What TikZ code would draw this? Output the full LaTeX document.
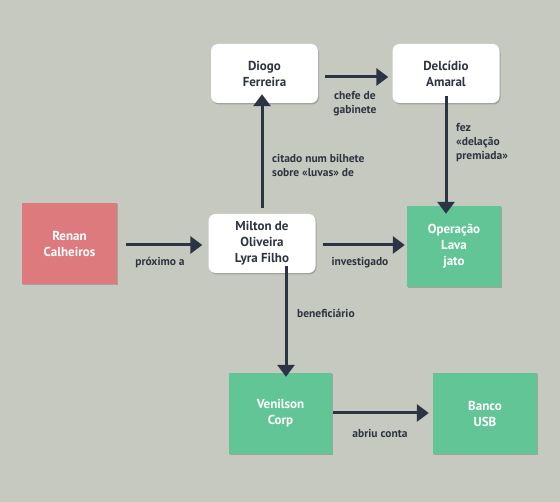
\documentclass[tikz,border=0pt]{standalone}
\usepackage{fontspec}
\setmainfont{PT Sans}
\usetikzlibrary{arrows.meta,shadows}
\definecolor{bg}{HTML}{C6C9BF}
\definecolor{arr}{HTML}{2B3442}
\definecolor{grn}{HTML}{62C596}
\definecolor{rd}{HTML}{DD7A7E}
\definecolor{txt}{HTML}{2E3440}
\tikzset{
  box/.style={minimum width=#1, align=center, font=\bfseries\fontsize{13}{16}\selectfont, inner sep=0pt,
    drop shadow={shadow xshift=1pt, shadow yshift=-1.5pt, fill=black, opacity=0.18}},
  wbox/.style={box=107pt, fill=white, rounded corners=7pt, text=txt, minimum height=59pt},
  gbox/.style={box=#1, fill=grn, text=white, minimum height=81pt},
  rbox/.style={box=95pt, fill=rd, text=white, minimum height=81pt},
  conn/.style={draw=arr, line width=3pt, -{Triangle[length=12pt,width=17pt]}},
  lbl/.style={font=\bfseries\fontsize{11.5}{14}\selectfont, text=txt, inner sep=0pt, align=left}
}
\begin{document}
\begin{tikzpicture}[x=1pt,y=-1pt]
\fill[bg] (0,0) rectangle (560,502);
\useasboundingbox (0,0) rectangle (560,502);
\node[wbox] (diogo) at (264.5,73.5) {Diogo\\Ferreira};
\node[wbox] (delc) at (446,73.5) {Delcídio\\Amaral};
\node[rbox] (renan) at (69.5,243.5) {Renan\\Calheiros};
\node[wbox] (milton) at (262,243.5) {Milton de\\Oliveira\\Lyra Filho};
\node[gbox=94pt] (oper) at (454,246.5) {Operação\\Lava\\jato};
\node[gbox=103pt] (venil) at (280.5,413.5) {Venilson\\Corp};
\node[gbox=104pt] (banco) at (485,413.5) {Banco\\USB};

\draw[conn] ([xshift=7pt]diogo.east|-0,77) -- ([xshift=-4pt]delc.west|-0,77);
\draw[conn] (milton.north-|262,0) ++(0,-6) coordinate (m1) -- ([yshift=9pt]diogo.south-|262,0);
\draw[conn] ([yshift=7pt]delc.south) -- ([yshift=-8pt]oper.north-|delc.south);
\draw[conn] ([xshift=9pt]renan.east|-0,245) -- ([xshift=-6pt]milton.west|-0,245);
\draw[conn] ([xshift=7pt]milton.east|-0,245) -- ([xshift=-2pt]oper.west|-0,245);
\draw[conn] ([yshift=7pt]milton.south-|286,0) -- ([yshift=-4pt]venil.north-|286,0);
\draw[conn] ([xshift=1pt]venil.east|-0,413) -- ([xshift=-4pt]banco.west|-0,413);

\node[lbl, align=center] (l1) at (355,104) {chefe de\\gabinete};
\node[lbl, anchor=west] (l2) at (272,165) {citado num bilhete\\sobre «luvas» de};
\node[lbl, anchor=west] (l3) at (456,143) {fez\\«delação\\premiada»};
\node[lbl] (l4) at (160,263) {próximo a};
\node[lbl] (l5) at (360,263) {investigado};
\node[lbl, anchor=west] (l6) at (297,313) {beneficiário};
\node[lbl] (l7) at (380,433) {abriu conta};
\end{tikzpicture}
\end{document}
